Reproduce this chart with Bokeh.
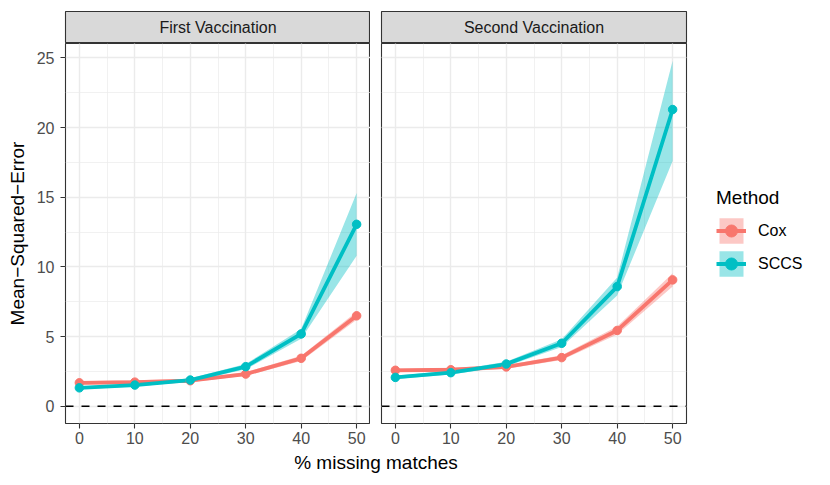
from bokeh.plotting import figure
from bokeh.layouts import row, column
from bokeh.models import (Range1d, Span, SingleIntervalTicker, Legend, LegendItem,
                          Label, ColumnDataSource)
from bokeh.embed import file_html
from bokeh.resources import INLINE

# ---------------- data ----------------
missing = [0, 10, 20, 30, 40, 50]
panels = ["First Vaccination", "Second Vaccination"]
methods = ["Cox", "SCCS"]

cox1 = [1.68, 1.73, 1.83, 2.31, 3.44, 6.49]
cox1_lo = [1.55, 1.60, 1.72, 2.18, 3.25, 6.20]
cox1_hi = [1.80, 1.86, 1.95, 2.45, 3.62, 6.78]
sccs1 = [1.32, 1.52, 1.88, 2.84, 5.19, 13.06]
sccs1_lo = [1.22, 1.42, 1.76, 2.65, 4.85, 10.8]
sccs1_hi = [1.42, 1.62, 2.00, 3.03, 5.55, 15.3]

cox2 = [2.58, 2.62, 2.82, 3.49, 5.44, 9.07]
cox2_lo = [2.45, 2.48, 2.68, 3.32, 5.15, 8.60]
cox2_hi = [2.71, 2.76, 2.96, 3.66, 5.73, 9.55]
sccs2 = [2.07, 2.41, 3.03, 4.52, 8.59, 21.3]
sccs2_lo = [1.95, 2.28, 2.86, 4.25, 7.95, 17.6]
sccs2_hi = [2.19, 2.54, 3.20, 4.80, 9.25, 24.8]

colors = {"Cox": "#F8766D", "SCCS": "#00BFC4"}
FONT = "Liberation Sans"
TICK_FS = "16px"
TITLE_FS = "19px"

series = {
    0: {"Cox": (cox1, cox1_lo, cox1_hi), "SCCS": (sccs1, sccs1_lo, sccs1_hi)},
    1: {"Cox": (cox2, cox2_lo, cox2_hi), "SCCS": (sccs2, sccs2_lo, sccs2_hi)},
}

FW, FH = 305, 380
LEFT, GAP, RIGHT = 65, 11, 128
TOP, STRIP_H, BOTTOM, XL_H = 11, 32, 27, 24


def make_panel(i):
    p = figure(frame_width=FW, frame_height=FH, output_backend="svg",
               toolbar_location=None,
               x_range=Range1d(-2.5, 52.5), y_range=Range1d(-1.24, 26.04),
               min_border_left=LEFT if i == 0 else GAP,
               min_border_right=0 if i == 0 else RIGHT,
               min_border_top=0, min_border_bottom=BOTTOM)
    p.background_fill_color = "white"
    p.border_fill_color = "white"
    p.outline_line_color = "#333333"
    p.outline_line_width = 1.1
    p.xaxis.ticker = SingleIntervalTicker(interval=10, num_minor_ticks=2)
    p.yaxis.ticker = SingleIntervalTicker(interval=5, num_minor_ticks=2)
    for ax in (p.xaxis, p.yaxis):
        ax.axis_line_color = None
        ax.minor_tick_line_color = None
        ax.major_tick_line_color = "#333333"
        ax.major_tick_line_width = 1.1
        ax.major_tick_out = 5
        ax.major_tick_in = 0
        ax.major_label_text_font = FONT
        ax.major_label_text_font_size = TICK_FS
        ax.major_label_text_color = "#4D4D4D"
    p.xaxis.major_label_standoff = 3
    p.yaxis.major_label_standoff = 6
    if i == 0:
        p.yaxis.axis_label = "Mean\u2212Squared\u2212Error"
        p.yaxis.axis_label_text_font = FONT
        p.yaxis.axis_label_text_font_size = TITLE_FS
        p.yaxis.axis_label_text_font_style = "normal"
        p.yaxis.axis_label_text_color = "black"
        p.yaxis.axis_label_standoff = 6
    else:
        p.yaxis.visible = False
    for g in (p.xgrid, p.ygrid):
        g.grid_line_color = "#EBEBEB"
        g.grid_line_width = 1.4
        g.minor_grid_line_color = "#EBEBEB"
        g.minor_grid_line_width = 0.7
    p.add_layout(Span(location=0, dimension="width", line_color="black",
                      line_dash="8 8", line_width=1.6))
    rends = {}
    for m in methods:
        y, lo, hi = series[i][m]
        src = ColumnDataSource(dict(x=missing, y=y, lo=lo, hi=hi))
        ra = p.varea(x="x", y1="lo", y2="hi", source=src,
                     fill_color=colors[m], fill_alpha=0.4)
        rends[m] = [ra, src]
    for m in methods:
        src = rends[m][1]
        rl = p.line(x="x", y="y", source=src, line_color=colors[m], line_width=3.8)
        rends[m].append(rl)
    for m in methods:
        src = rends[m][1]
        rs = p.scatter(x="x", y="y", source=src, fill_color=colors[m],
                       line_color=colors[m], size=8.5)
        rends[m].append(rs)
    return p, rends


def make_strip(i):
    s = figure(frame_width=FW, frame_height=STRIP_H, output_backend="svg",
               toolbar_location=None,
               x_range=Range1d(0, 1), y_range=Range1d(0, 1),
               min_border_left=LEFT if i == 0 else GAP,
               min_border_right=0 if i == 0 else RIGHT,
               min_border_top=TOP, min_border_bottom=0)
    s.axis.visible = False
    s.grid.visible = False
    s.background_fill_color = "#D9D9D9"
    s.border_fill_color = "white"
    s.outline_line_color = "#333333"
    s.outline_line_width = 1.1
    s.add_layout(Label(x=FW / 2, y=STRIP_H / 2, x_units="screen", y_units="screen",
                       text=panels[i], text_align="center", text_baseline="middle",
                       text_font=FONT, text_font_size=TICK_FS,
                       text_color="#1A1A1A"))
    return s


p1, r1 = make_panel(0)
p2, r2 = make_panel(1)

legend = Legend(items=[LegendItem(label=m, renderers=[r2[m][0], r2[m][2], r2[m][3]])
                       for m in methods],
                title="Method", location="center_left", orientation="vertical")
legend.title_text_font = FONT
legend.title_text_font_size = TITLE_FS
legend.title_text_font_style = "normal"
legend.title_text_color = "black"
legend.title_standoff = 6
legend.label_text_font = FONT
legend.label_text_font_size = TICK_FS
legend.label_text_color = "black"
legend.glyph_width = 30
legend.glyph_height = 32
legend.label_standoff = 12
legend.spacing = 1
legend.padding = 2
legend.margin = 30
legend.border_line_color = None
legend.background_fill_alpha = 0
p2.add_layout(legend, "right")

s1 = make_strip(0)
s2 = make_strip(1)

total_w = LEFT + FW + GAP + FW + RIGHT
xl = figure(width=total_w, height=XL_H, output_backend="svg", toolbar_location=None,
            x_range=Range1d(0, 1), y_range=Range1d(0, 1),
            min_border=0)
xl.axis.visible = False
xl.grid.visible = False
xl.outline_line_color = None
xl.add_layout(Label(x=LEFT + FW + GAP / 2, y=12, x_units="screen", y_units="screen",
                    text="% missing matches", text_align="center",
                    text_baseline="middle", text_font=FONT,
                    text_font_size=TITLE_FS, text_color="black"))

layout = column(row(s1, s2), row(p1, p2), xl)

open("out.html", "w").write(file_html(layout, INLINE))
